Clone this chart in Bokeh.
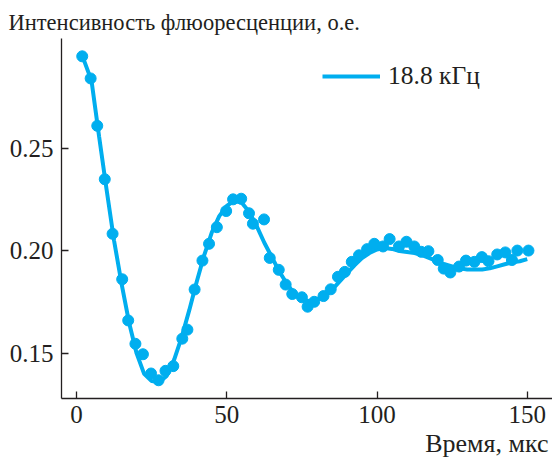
from bokeh.plotting import figure
from bokeh.models import (FixedTicker, NumeralTickFormatter, Range1d, Legend,
                          LegendItem, Title)
from bokeh.embed import file_html
from bokeh.resources import INLINE

# measured points (time, µs / fluorescence intensity, a.u.)
time_pts = [1.9, 4.7, 6.9, 9.4, 12.0, 15.2, 17.2, 19.6, 22.1, 24.8, 27.3, 29.6,
            32.2, 35.2, 36.9, 39.3, 41.9, 44.1, 46.7, 49.8, 52.1, 54.8, 57.4,
            58.7, 62.4, 64.3, 67.3, 69.6, 71.8, 75.0, 76.9, 79.1, 82.2, 84.6,
            87.0, 89.3, 91.6, 94.0, 96.7, 99.1, 102.0, 104.2, 107.3, 109.8,
            112.4, 114.7, 117.1, 120.2, 122.2, 124.4, 127.3, 129.6, 132.4,
            134.9, 137.1, 140.0, 142.7, 144.9, 146.7, 150.4]
intensity_pts = [0.295, 0.2842, 0.2611, 0.2350, 0.2084, 0.1862, 0.1661, 0.1547,
                 0.1496, 0.1402, 0.1369, 0.1415, 0.1438, 0.1572, 0.1616, 0.1812,
                 0.1953, 0.2035, 0.2116, 0.2195, 0.2252, 0.2255, 0.2184, 0.2133,
                 0.2154, 0.1966, 0.1908, 0.1836, 0.1790, 0.1774, 0.1728, 0.1752,
                 0.1780, 0.1813, 0.1874, 0.1898, 0.1947, 0.1979, 0.2009, 0.2035,
                 0.2022, 0.2058, 0.2022, 0.2045, 0.2022, 0.1996, 0.1999, 0.1956,
                 0.1914, 0.1895, 0.1924, 0.1953, 0.1947, 0.1970, 0.1950, 0.1983,
                 0.1993, 0.1956, 0.2002, 0.2002]

# fitted curve
fit_time = [2, 5, 7.5, 10, 12.5, 15, 17.5, 20, 22.5, 25, 27.5, 30, 32.5, 35,
            37.5, 40, 42.5, 45, 47.5, 50, 52.5, 55, 57.5, 60, 62.5, 65, 67.5,
            70, 72.5, 75, 77.5, 80, 82.5, 85, 87.5, 90, 92.5, 95, 97.5, 100,
            102.5, 105, 107.5, 110, 112.5, 115, 117.5, 120, 122.5, 125, 127.5,
            130, 132.5, 135, 137.5, 140, 142.5, 145, 147.5, 150]
fit_intensity = [0.295, 0.283, 0.256, 0.230, 0.205, 0.184, 0.165, 0.150, 0.140,
                 0.1365, 0.136, 0.139, 0.147, 0.158, 0.171, 0.185, 0.198, 0.209,
                 0.217, 0.222, 0.2245, 0.2235, 0.219, 0.212, 0.204, 0.197, 0.190,
                 0.184, 0.179, 0.1765, 0.1755, 0.1765, 0.178, 0.181, 0.185,
                 0.189, 0.193, 0.1965, 0.199, 0.2007, 0.2015, 0.201, 0.2,
                 0.1995, 0.199, 0.198, 0.1965, 0.195, 0.1935, 0.1925, 0.1915,
                 0.191, 0.191, 0.191, 0.1915, 0.1925, 0.1935, 0.1945, 0.195,
                 0.196]

x_ticks = [0, 50, 100, 150]
y_ticks = [0.15, 0.20, 0.25]
legend_label = "18.8 кГц"
title_text = "Интенсивность флюоресценции, о.е."
xlabel_text = "Время, мкс"

COLOR = "#00aeef"
TXT = "#231f20"
FONT = "Liberation Serif"

p = figure(width=552, height=458, output_backend="svg", toolbar_location=None,
           x_range=Range1d(-5, 158.4), y_range=Range1d(0.128, 0.3037),
           min_border_left=61, min_border_right=0, min_border_top=38,
           min_border_bottom=0)
p.outline_line_color = None
p.grid.visible = False
p.background_fill_color = "white"
p.border_fill_color = "white"

line_r = p.line(fit_time, fit_intensity, line_width=4, color=COLOR)
p.scatter(time_pts, intensity_pts, size=11, color=COLOR)

for ax in (p.xaxis[0], p.yaxis[0]):
    ax.axis_line_color = TXT
    ax.axis_line_width = 1.3
    ax.major_tick_line_color = TXT
    ax.major_tick_line_width = 1.3
    ax.major_tick_in = 7
    ax.major_tick_out = 0
    ax.minor_tick_line_color = None
    ax.major_label_text_font = FONT
    ax.major_label_text_font_size = "25px"
    ax.major_label_text_color = TXT

p.xaxis.ticker = FixedTicker(ticks=x_ticks)
p.yaxis.ticker = FixedTicker(ticks=y_ticks)
p.xaxis.formatter = NumeralTickFormatter(format="0")
p.yaxis.formatter = NumeralTickFormatter(format="0.00")
p.xaxis.major_label_standoff = 7
p.yaxis.major_label_standoff = 8

p.title.text = title_text
p.title.text_font = FONT
p.title.text_font_size = "22.5px"
p.title.text_font_style = "normal"
p.title.text_color = TXT
p.title.align = "left"
p.title.offset = -53
p.title.standoff = 8

xt = Title(text=xlabel_text, align="right", offset=4, text_font=FONT,
           text_font_size="26px", text_font_style="normal", text_color=TXT,
           standoff=2)
p.add_layout(xt, "below")

legend = Legend(items=[LegendItem(label=legend_label, renderers=[line_r])],
                location=(261, 307), glyph_width=58, glyph_height=26,
                label_standoff=8, padding=0, margin=0, spacing=0,
                border_line_color=None, background_fill_alpha=0,
                label_text_font=FONT, label_text_font_size="25.5px",
                label_text_color=TXT)
p.add_layout(legend)

open("out.html", "w").write(file_html(p, INLINE))
